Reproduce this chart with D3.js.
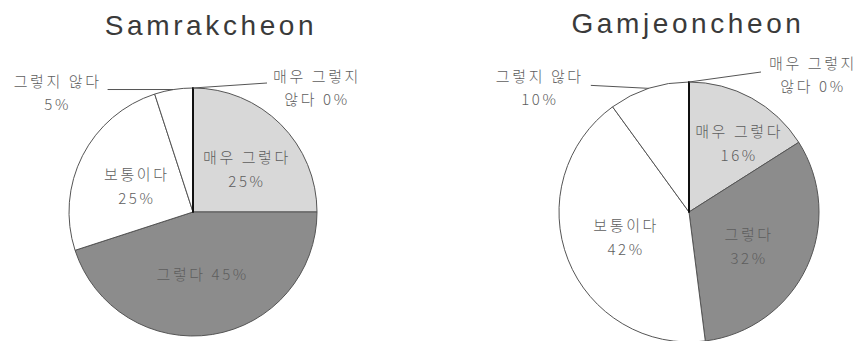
<!DOCTYPE html>
<html>
<head>
<meta charset="utf-8">
<script src="https://cdn.jsdelivr.net/npm/d3@7"></script>
<style>
  html, body { margin: 0; padding: 0; background: #fff; }
  svg { display: block; }
</style>
</head>
<body>
<svg id="chart" width="863" height="341"></svg>
<script>
// Survey response shares for two streams
const categories = ["매우 그렇다", "그렇다", "보통이다", "그렇지 않다", "매우 그렇지 않다"];
const samrakValues = [25, 45, 25, 5, 0];
const gamjeonValues = [16, 32, 42, 10, 0];
const titles = ["Samrakcheon", "Gamjeoncheon"];

// Slice fills, in category order
const fills = ["#d8d8d8", "#8c8c8c", "#ffffff", "#ffffff", "#ffffff"];

// Per-pie layout: center, radius, how each label is placed
const layouts = [
  {
    cx: 193, cy: 212, r: 124, titleX: 211, titleY: 35,
    inner: { 0: { f: 0.56, da: 6, lines: 2 }, 1: { f: 0.5, da: 0, lines: 1 }, 2: { f: 0.5, da: -2, lines: 2 } },
    outer: {
      3: { lx: -66, ly: 0, tx: -50, ty: -9 },
      4: { lx: 74, ly: -5, tx: 50, ty: -8 }
    }
  },
  {
    cx: 689, cy: 212, r: 130, titleX: 688, titleY: 33,
    inner: { 0: { f: 0.66, da: 7, lines: 2 }, 1: { f: 0.53, da: 4, lines: 2 }, 2: { f: 0.52, da: 0, lines: 2 } },
    outer: {
      3: { lx: -58, ly: -3, tx: -51, ty: -10 },
      4: { lx: 72, ly: -10, tx: 52, ty: -10 }
    }
  }
];

const svg = d3.select("#chart");
const pie = d3.pie().sort(null).value(d => d).startAngle(0).endAngle(2 * Math.PI);
const lineH = 24;

function point(angle, radius, cx, cy) {
  return [cx + radius * Math.sin(angle), cy - radius * Math.cos(angle)];
}

[samrakValues, gamjeonValues].forEach((values, ci) => {
  const L = layouts[ci];
  const arc = d3.arc().innerRadius(0).outerRadius(L.r);
  const arcs = pie(values);
  const g = svg.append("g");

  svg.append("text")
    .attr("x", L.titleX).attr("y", L.titleY)
    .attr("text-anchor", "middle")
    .style("font-family", "'Liberation Sans', Arial, sans-serif")
    .style("font-size", "28px")
    .style("letter-spacing", "3.6px")
    .attr("fill", "#3a3a3a")
    .text(titles[ci]);

  const slices = g.append("g").attr("transform", `translate(${L.cx},${L.cy})`);
  slices.selectAll("path")
    .data(arcs)
    .join("path")
    .attr("d", arc)
    .attr("fill", (d, i) => fills[i])
    .attr("stroke", (d) => d.value === 0 ? "#111" : "#555")
    .attr("stroke-width", (d) => d.value === 0 ? 2 : 1)
    .attr("stroke-linejoin", "round");

  // zero-value slice still shows its boundary as a dark radial line
  arcs.filter(d => d.value === 0).forEach(d => {
    const p = point(d.startAngle, L.r, 0, 0);
    slices.append("line")
      .attr("x1", 0).attr("y1", 0).attr("x2", p[0]).attr("y2", p[1])
      .attr("stroke", "#111").attr("stroke-width", 1.6);
  });

  const labelStyle = sel => sel
    .attr("text-anchor", "middle")
    .attr("dominant-baseline", "central")
    .style("font-family", "'Noto Sans CJK KR', 'Noto Sans', sans-serif")
    .style("font-size", "15px")
    .style("font-weight", "300")
    .style("letter-spacing", "2.6px")
    .attr("fill", "#5e5e5e");

  arcs.forEach((d, i) => {
    const name = categories[i];
    const pct = d.value + "%";
    if (L.inner[i]) {
      const cfg = L.inner[i];
      const mid = (d.startAngle + d.endAngle) / 2 + cfg.da * Math.PI / 180;
      const [x, y] = point(mid, L.r * cfg.f, L.cx, L.cy);
      if (cfg.lines === 1) {
        svg.append("text").call(labelStyle).attr("x", x).attr("y", y).text(name + " " + pct);
      } else {
        svg.append("text").call(labelStyle).attr("x", x).attr("y", y - lineH / 2).text(name);
        svg.append("text").call(labelStyle).attr("x", x).attr("y", y + lineH / 2).text(pct);
      }
    } else if (L.outer[i]) {
      const cfg = L.outer[i];
      const mid = (d.startAngle + d.endAngle) / 2;
      const [ax, ay] = point(mid, L.r, L.cx, L.cy);
      const ex = ax + cfg.lx, ey = ay + cfg.ly;
      svg.append("line")
        .attr("x1", ax).attr("y1", ay).attr("x2", ex).attr("y2", ey)
        .attr("stroke", "#555").attr("stroke-width", 1);
      const tx = ex + cfg.tx, ty = ey + cfg.ty;
      // long names break after the second word
      const words = name.split(" ");
      let first, second;
      if (words.length > 2) {
        first = words.slice(0, 2).join(" ");
        second = words.slice(2).join(" ") + " " + pct;
      } else {
        first = name;
        second = pct;
      }
      svg.append("text").call(labelStyle).attr("x", tx).attr("y", ty).text(first);
      svg.append("text").call(labelStyle).attr("x", tx).attr("y", ty + 23).text(second);
    }
  });
});
</script>
</body>
</html>
